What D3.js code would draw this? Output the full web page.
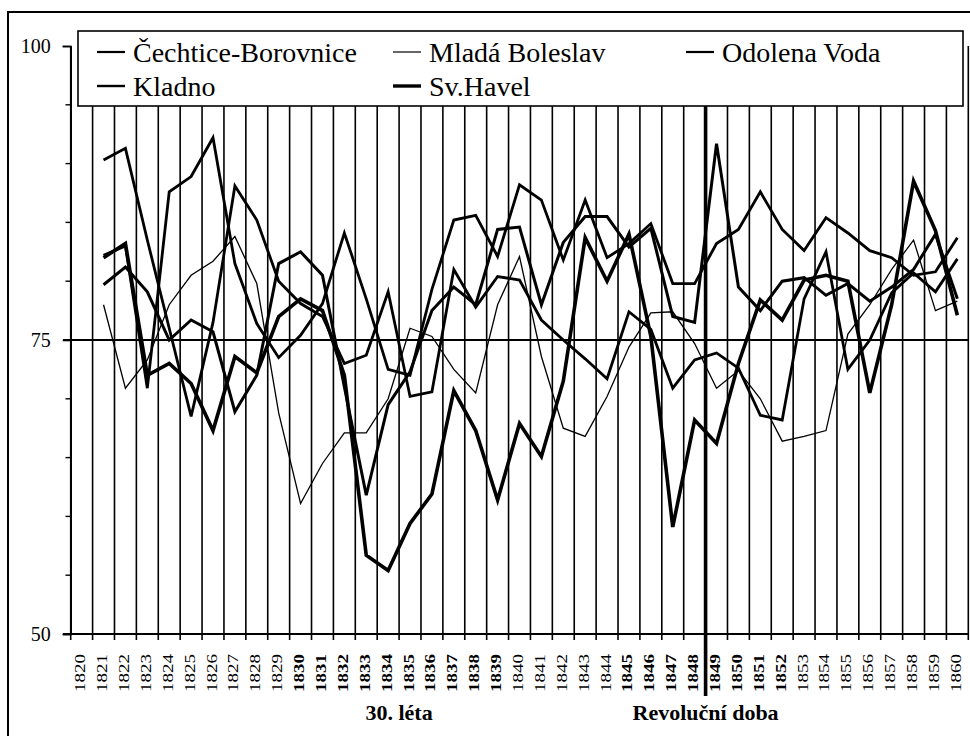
<!DOCTYPE html>
<html><head><meta charset="utf-8">
<script src="https://cdn.jsdelivr.net/npm/d3@7/dist/d3.min.js"></script>
<style>
body{margin:0;background:#fff}
svg{display:block}
svg text{font-family:"Liberation Serif","Times New Roman",Times,"DejaVu Serif",serif;}
</style>
</head><body>
<svg id="chart" width="970" height="736"></svg>
<script>
const years = ["1820","1821","1822","1823","1824","1825","1826","1827","1828","1829",
  "1830","1831","1832","1833","1834","1835","1836","1837","1838","1839",
  "1840","1841","1842","1843","1844","1845","1846","1847","1848","1849",
  "1850","1851","1852","1853","1854","1855","1856","1857","1858","1859","1860"];
const boldYears = ["1830","1831","1832","1833","1834","1835","1836","1837","1838","1839",
  "1845","1846","1847","1848","1849","1850","1851","1852"];
const yTicks = [50, 75, 100];
const yMinorTicks = [55, 60, 65, 70, 80, 85, 90, 95];
const periodLabels = ["30. léta", "Revoluční doba"];
const periodStart = ["1830", "1845"];
const periodEnd = ["1839", "1852"];
const markerYear = "1849";

const seriesNames = ["Čechtice-Borovnice", "Mladá Boleslav", "Odolena Voda", "Kladno", "Sv.Havel"];
const cechtice = [null, 90.3, 91.3, 83.5, 76.0, 68.5, 76.5, 88.1, 85.2, 80.0,
  78.1, 77.0, 73.0, 73.7, 79.1, 70.2, 70.6, 81.0, 77.8, 80.4,
  80.1, 76.7, 75.0, 73.4, 71.7, 77.4, 75.9, 70.9, 73.3, 73.9,
  72.6, 68.6, 68.2, 78.5, 82.5, 72.5, 75.0, 79.0, 80.7, 79.1, 81.9];
const mlada = [null, 78.0, 70.9, 73.3, 78.0, 80.5, 81.7, 83.8, 79.8, 68.8,
  61.1, 64.5, 67.1, 67.1, 70.0, 76.0, 75.3, 72.5, 70.5, 78.0,
  82.1, 73.6, 67.5, 66.8, 70.2, 74.4, 77.3, 77.4, 74.7, 70.9,
  72.4, 70.0, 66.4, 66.8, 67.3, 75.5, 78.0, 81.0, 83.5, 77.5, 78.3];
const odolena = [null, 82.2, 83.0, 70.9, 87.6, 88.9, 92.2, 81.5, 76.4, 73.5,
  75.4, 78.1, 84.1, 78.5, 72.5, 72.0, 79.3, 85.2, 85.6, 82.1,
  88.2, 86.9, 81.8, 86.9, 82.0, 83.2, 84.9, 79.8, 79.8, 83.2,
  84.4, 87.6, 84.4, 82.6, 85.4, 84.1, 82.6, 82.0, 80.5, 80.8, 83.7];
const kladno = [null, 79.7, 81.2, 79.1, 75.0, 76.7, 75.7, 68.9, 72.0, 81.5,
  82.5, 80.5, 71.0, 61.8, 69.5, 72.3, 77.5, 79.5, 78.0, 84.4,
  84.6, 78.0, 83.3, 85.5, 85.5, 82.9, 84.5, 77.0, 76.5, 91.7,
  79.5, 77.5, 80.0, 80.3, 78.8, 79.8, 78.3, 79.5, 81.0, 84.0, 78.5];
const havel = [null, 82.0, 83.2, 72.0, 73.0, 71.3, 67.3, 73.6, 72.2, 77.0,
  78.5, 77.5, 72.0, 56.7, 55.4, 59.4, 61.9, 70.7, 67.3, 61.4,
  67.9, 65.1, 71.5, 83.7, 80.0, 84.0, 75.3, 59.1, 68.2, 66.2,
  73.0, 78.4, 76.7, 80.1, 80.5, 80.0, 70.5, 78.0, 88.5, 84.3, 77.1];
const seriesValues = [cechtice, mlada, odolena, kladno, havel];
const seriesWidths = [2.8, 1.3, 2.8, 3.0, 3.6];

const svg = d3.select("#chart");

const x = d3.scaleBand().domain(years).range([70.7, 968.3]).padding(0);
const y = d3.scaleLinear().domain([50, 100]).range([634, 46]);
const bw = x.bandwidth();

// outer frame
svg.append("rect").attr("x", 8).attr("y", 12).attr("width", 980).attr("height", 740)
  .attr("fill", "#fff").attr("stroke", "#000").attr("stroke-width", 2);

// vertical gridlines at band boundaries
const bounds = years.map(d => x(d)).concat([x(years[years.length - 1]) + bw]);
svg.append("g").selectAll("line").data(bounds).join("line")
  .attr("x1", d => d).attr("x2", d => d)
  .attr("y1", y(100)).attr("y2", y(50) + 6)
  .attr("stroke", "#000").attr("stroke-width", 1.6);

// y axis
const yAxisG = svg.append("g").attr("transform", "translate(70.7,0)");
yAxisG.call(d3.axisLeft(y).tickValues(yTicks).tickSize(8).tickFormat(d3.format("d")));
yAxisG.select(".domain").attr("stroke-width", 1.6);
yAxisG.selectAll(".tick line").attr("stroke-width", 1.6);
yAxisG.selectAll(".tick text").attr("font-size", 20)
  .attr("x", -20).attr("fill", "#000");
svg.append("g").selectAll("line").data(yMinorTicks).join("line")
  .attr("x1", 65.5).attr("x2", 70.7).attr("y1", d => y(d)).attr("y2", d => y(d))
  .attr("stroke", "#000").attr("stroke-width", 1.4);

// x axis baseline
svg.append("line").attr("x1", 63).attr("x2", 968.3).attr("y1", y(50)).attr("y2", y(50))
  .attr("stroke", "#000").attr("stroke-width", 1.8);
// 75 line
svg.append("line").attr("x1", 63).attr("x2", 968.3).attr("y1", y(75)).attr("y2", y(75))
  .attr("stroke", "#000").attr("stroke-width", 2.2);

// marker line 1848/1849
svg.append("line").attr("x1", x(markerYear)).attr("x2", x(markerYear))
  .attr("y1", y(100)).attr("y2", 696)
  .attr("stroke", "#000").attr("stroke-width", 3.6);

// x tick labels (rotated)
svg.append("g").selectAll("text").data(years).join("text")
  .attr("transform", d => `translate(${x(d) + bw / 2 - 1.5},692) rotate(-90)`)
  .attr("dominant-baseline", "central")
  .attr("font-size", 15)
  .attr("font-weight", d => boldYears.includes(d) ? "bold" : "normal")
  .attr("textLength", 38).attr("lengthAdjust", "spacingAndGlyphs")
  .text(d => d);

// period labels
svg.append("g").selectAll("text").data(periodLabels).join("text")
  .attr("x", (d, i) => (x(periodStart[i]) + x(periodEnd[i]) + bw) / 2)
  .attr("y", 720)
  .attr("text-anchor", "middle")
  .attr("font-size", 22).attr("font-weight", "bold")
  .text(d => d);

// series lines
const line = d3.line()
  .defined(d => d.v != null)
  .x(d => x(d.year) + bw / 2)
  .y(d => y(d.v));
svg.append("g").selectAll("path").data(seriesValues).join("path")
  .attr("d", vals => line(vals.map((v, i) => ({ year: years[i], v }))))
  .attr("fill", "none").attr("stroke", "#000")
  .attr("stroke-width", (d, i) => seriesWidths[i])
  .attr("stroke-linejoin", "miter");

// legend
const lg = svg.append("g");
lg.append("rect").attr("x", 78).attr("y", 31).attr("width", 885).attr("height", 75)
  .attr("fill", "#fff").attr("stroke", "#000").attr("stroke-width", 1.6);
const legX = [97, 393, 686, 97, 393];
const legY = [52, 52, 52, 86, 86];
const legendWidths = [2.2, 1.2, 2.2, 2.4, 3.4];
const items = lg.selectAll("g.item").data(seriesNames).join("g").attr("class", "item");
items.append("line")
  .attr("x1", (d, i) => legX[i]).attr("x2", (d, i) => legX[i] + 28)
  .attr("y1", (d, i) => legY[i]).attr("y2", (d, i) => legY[i])
  .attr("stroke", "#000").attr("stroke-width", (d, i) => legendWidths[i]);
items.append("text")
  .attr("x", (d, i) => legX[i] + 36).attr("y", (d, i) => legY[i] + 10)
  .attr("font-size", 28)
  .text(d => d);
</script>
</body></html>
